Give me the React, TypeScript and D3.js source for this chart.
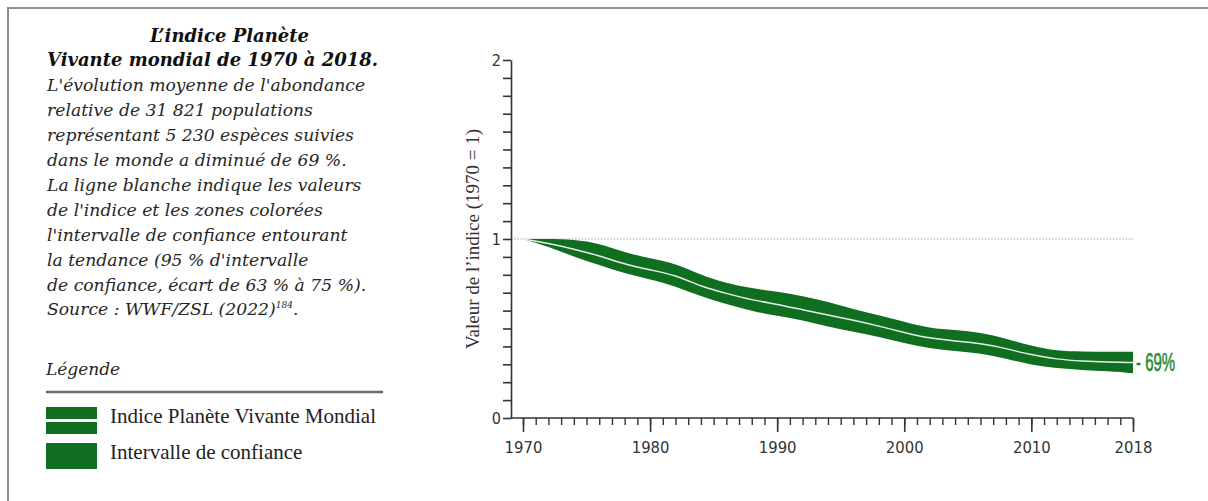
import { useEffect, useRef } from 'react';
import * as d3 from 'd3';

// Living Planet Index (2-year steps)
const years = [
  1970, 1972, 1974, 1976, 1978, 1980, 1982, 1984, 1986, 1988, 1990, 1992, 1994,
  1996, 1998, 2000, 2002, 2004, 2006, 2008, 2010, 2012, 2014, 2016, 2018,
];
const indexValues = [
  1.0, 0.976, 0.944, 0.907, 0.859, 0.827, 0.799, 0.734, 0.696, 0.659, 0.636, 0.605, 0.575,
  0.547, 0.514, 0.477, 0.445, 0.43, 0.417, 0.389, 0.352, 0.328, 0.318, 0.313, 0.31,
];
const upperValues = [
  1.0, 1.0, 0.998, 0.975, 0.925, 0.892, 0.864, 0.799, 0.752, 0.724, 0.706, 0.682, 0.65,
  0.607, 0.575, 0.538, 0.501, 0.492, 0.477, 0.445, 0.402, 0.374, 0.371, 0.37, 0.37,
];
const lowerValues = [
  1.0, 0.957, 0.901, 0.855, 0.808, 0.775, 0.737, 0.678, 0.637, 0.598, 0.57, 0.547, 0.51,
  0.482, 0.454, 0.417, 0.389, 0.374, 0.361, 0.333, 0.296, 0.278, 0.268, 0.262, 0.25,
];

const xMajorTicks = [1970, 1980, 1990, 2000, 2010, 2018];
const yMajorTicks = [0, 1, 2];
const endLabel = '- 69%';

const titleLines = ['L’indice Planète', 'Vivante mondial de 1970 à 2018.'];
const bodyLines = [
  "L'évolution moyenne de l'abondance",
  'relative de 31 821 populations',
  'représentant 5 230 espèces suivies',
  'dans le monde a diminué de 69 %.',
  'La ligne blanche indique les valeurs',
  "de l'indice et les zones colorées",
  "l'intervalle de confiance entourant",
  "la tendance (95 % d'intervalle",
  'de confiance, écart de 63 % à 75 %).',
];
const legendItems = ['Indice Planète Vivante Mondial', 'Intervalle de confiance'];

const GREEN = '#0f6e20';
const TEXT = '#262626';

export default function App() {
  const svgRef = useRef<SVGSVGElement>(null);

  useEffect(() => {
    if (!svgRef.current) return;
    const svg = d3.select(svgRef.current);
    svg.selectAll('*').remove();

    // frame
    svg.append('path')
      .attr('d', 'M8,501 L8,8 L1208,8')
      .attr('fill', 'none')
      .attr('stroke', '#8c8c8c')
      .attr('stroke-width', 2);

    // text block on the left
    const serif = '"DejaVu Serif", serif';
    titleLines.forEach((t, i) => {
      svg.append('text')
        .attr('x', i === 0 ? 150 : 47)
        .attr('y', 41.5 + i * 24.9)
        .attr('font-family', serif)
        .attr('font-style', 'italic')
        .attr('font-weight', 'bold')
        .attr('font-size', 18)
        .attr('fill', '#111')
        .text(t);
    });
    bodyLines.forEach((t, i) => {
      svg.append('text')
        .attr('x', 47)
        .attr('y', 41.5 + (i + 2) * 24.9)
        .attr('font-family', serif)
        .attr('font-style', 'italic')
        .attr('font-size', 17.2)
        .attr('fill', TEXT)
        .text(t);
    });
    const src = svg.append('text')
      .attr('x', 47)
      .attr('y', 41.5 + 11 * 24.9)
      .attr('font-family', serif)
      .attr('font-style', 'italic')
      .attr('font-size', 17.2)
      .attr('fill', TEXT);
    src.append('tspan').text('Source : WWF/ZSL (2022)');
    src.append('tspan').attr('font-size', 9).attr('dy', -7).text('184');
    src.append('tspan').attr('dy', 7).text('.');

    // legend
    svg.append('text')
      .attr('x', 46)
      .attr('y', 375)
      .attr('font-family', serif)
      .attr('font-style', 'italic')
      .attr('font-size', 17)
      .attr('fill', TEXT)
      .text('Légende');
    svg.append('line')
      .attr('x1', 46).attr('x2', 383)
      .attr('y1', 392).attr('y2', 392)
      .attr('stroke', '#6a6a6a')
      .attr('stroke-width', 2.5);
    svg.append('rect').attr('x', 46).attr('y', 407).attr('width', 51).attr('height', 12).attr('fill', GREEN);
    svg.append('rect').attr('x', 46).attr('y', 422).attr('width', 51).attr('height', 12).attr('fill', GREEN);
    svg.append('rect').attr('x', 46).attr('y', 443).attr('width', 51).attr('height', 26).attr('fill', GREEN);
    legendItems.forEach((t, i) => {
      svg.append('text')
        .attr('x', 110)
        .attr('y', 422.5 + i * 36.5)
        .attr('font-family', '"Liberation Serif", serif')
        .attr('font-size', 21)
        .attr('fill', '#222')
        .text(t);
    });

    // chart
    const x = d3.scaleLinear().domain([1970, 2018]).range([523, 1133]);
    const y = d3.scaleLinear().domain([0, 2]).range([418, 60]);
    const axisFont = '"DejaVu Sans Condensed", "DejaVu Sans", sans-serif';

    // y = 1 reference line
    svg.append('line')
      .attr('x1', 511).attr('x2', x(2018))
      .attr('y1', y(1)).attr('y2', y(1))
      .attr('stroke', '#a8a8a8')
      .attr('stroke-width', 1.2)
      .attr('stroke-dasharray', '1.6,1.6');

    const data = years.map((yr, i) => ({
      year: yr,
      value: indexValues[i],
      upper: upperValues[i],
      lower: lowerValues[i],
    }));
    type D = (typeof data)[number];

    const band = d3.area<D>()
      .x((d) => x(d.year))
      .y0((d) => y(d.lower))
      .y1((d) => y(d.upper))
      .curve(d3.curveBasis);
    svg.append('path').datum(data).attr('d', band).attr('fill', GREEN);

    const mid = d3.line<D>()
      .x((d) => x(d.year))
      .y((d) => y(d.value))
      .curve(d3.curveBasis);
    svg.append('path')
      .datum(data)
      .attr('d', mid)
      .attr('fill', 'none')
      .attr('stroke', '#e6efe6')
      .attr('stroke-width', 1.5);

    // y axis
    const yMinor = d3.range(0, 21).map((v) => v / 10);
    const yAxis = svg.append('g')
      .attr('transform', 'translate(511,0)')
      .call(d3.axisLeft(y).tickValues(yMinor).tickSize(8).tickSizeOuter(0).tickFormat(() => ''));
    yAxis.selectAll('path, line').attr('stroke', '#333').attr('stroke-width', 1.6);
    yMajorTicks.forEach((v) => {
      svg.append('text')
        .attr('x', 501)
        .attr('y', y(v))
        .attr('dy', '0.36em')
        .attr('text-anchor', 'end')
        .attr('font-family', axisFont)
        .attr('font-size', 16)
        .attr('fill', '#333')
        .text(String(v));
    });

    // x axis
    svg.append('line')
      .attr('x1', 511).attr('x2', x(2018))
      .attr('y1', 418).attr('y2', 418)
      .attr('stroke', '#333')
      .attr('stroke-width', 1.6);
    const xMinor = d3.range(1970, 2019);
    const xMinorAxis = svg.append('g')
      .attr('transform', 'translate(0,418)')
      .call(d3.axisBottom(x).tickValues(xMinor).tickSize(7).tickSizeOuter(0).tickFormat(() => ''));
    xMinorAxis.select('.domain').remove();
    xMinorAxis.selectAll('line').attr('stroke', '#333').attr('stroke-width', 1.4);
    const xMajorAxis = svg.append('g')
      .attr('transform', 'translate(0,418)')
      .call(d3.axisBottom(x).tickValues(xMajorTicks).tickSize(14).tickSizeOuter(0).tickPadding(8).tickFormat(d3.format('d')));
    xMajorAxis.select('.domain').remove();
    xMajorAxis.selectAll('line').attr('stroke', '#333').attr('stroke-width', 1.6);
    xMajorAxis.selectAll('text')
      .attr('font-family', axisFont)
      .attr('font-size', 16.5)
      .attr('fill', '#333')
      .attr('y', 34.5)
      .attr('dy', 0);

    // y axis title
    svg.append('text')
      .attr('transform', 'translate(479,239) rotate(-90)')
      .attr('text-anchor', 'middle')
      .attr('font-family', '"Liberation Serif", serif')
      .attr('font-size', 19)
      .attr('fill', '#333')
      .text('Valeur de l’indice (1970 = 1)');

    // end label
    svg.append('text')
      .attr('transform', `translate(${x(2018) + 3},${y(indexValues[indexValues.length - 1]) + 8}) scale(0.6,1)`)
      .attr('font-family', '"Liberation Sans", sans-serif')
      .attr('font-size', 25)
      .attr('fill', '#2a8a3a')
      .attr('stroke', '#2a8a3a')
      .attr('stroke-width', 0.6)
      .text(endLabel);
  }, []);

  return (
    <div style={{ position: 'fixed', left: 0, top: 0, background: '#fff' }}>
      <svg ref={svgRef} width={1208} height={501} style={{ display: 'block' }} />
    </div>
  );
}
